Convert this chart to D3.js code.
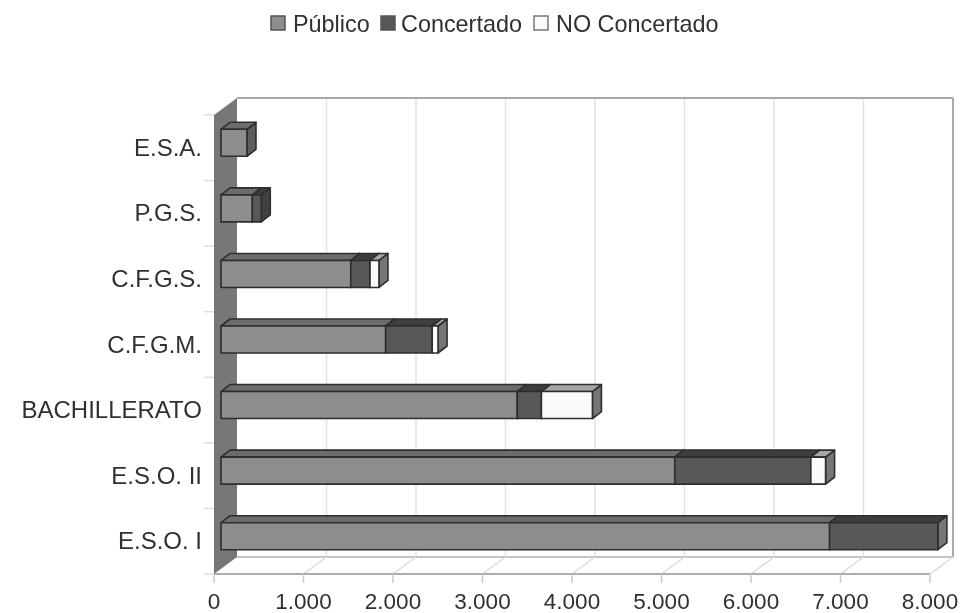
<!DOCTYPE html>
<html><head><meta charset="utf-8">
<script src="https://cdn.jsdelivr.net/npm/d3@7"></script>
<style>html,body{margin:0;padding:0;background:#fff}svg{display:block;filter:blur(0.5px)}text{font-family:"Liberation Sans",Arial,sans-serif;fill:#303032}</style>
</head><body><svg id="c" width="966" height="613"></svg>
<script>
const categories = ["E.S.A.","P.G.S.","C.F.G.S.","C.F.G.M.","BACHILLERATO","E.S.O. II","E.S.O. I"];
const seriesNames = ["Público","Concertado","NO Concertado"];
const publico = [290,350,1450,1840,3310,5070,6800];
const concertado = [0,100,215,520,270,1520,1210];
const noConcertado = [0,0,100,65,570,165,0];
const xTicks = [0,1000,2000,3000,4000,5000,6000,7000,8000];
const tickLabels = ["0","1.000","2.000","3.000","4.000","5.000","6.000","7.000","8.000"];
const frontFill = ["#8d8d8f","#58585a","#fafafa"];
const topFill = ["#6c6c6e","#3e3e40","#a6a6a8"];
const sideFill = ["#5c5c5e","#414143","#767678"];

const svg = d3.select("#c");
const x = d3.scaleLinear().domain([0,8000]).range([214,930]);
const y = d3.scaleBand().domain(categories).range([115,574]);
const wall = {dx:23, dy:-17};          // depth of the chart box
const barD = {dx:9, dy:-7};            // depth of a bar
const inset = {dx:7, dy:-5};           // bar offset from the front plane
const top0 = y.range()[0], bot = y.range()[1];
const poly = (pts,fill,stroke,sw)=>svg.append("polygon").attr("points",pts.map(p=>p.join(",")).join(" "))
  .attr("fill",fill).attr("stroke",stroke||"none").attr("stroke-width",sw||0).attr("stroke-linejoin","round");
const line = (a,b,c,w)=>svg.append("line").attr("x1",a[0]).attr("y1",a[1]).attr("x2",b[0]).attr("y2",b[1]).attr("stroke",c).attr("stroke-width",w);

// legend
let legendX = [270,380,533];
let legendTextX = [293,401,556];
seriesNames.forEach((s,i)=>{
  svg.append("rect").attr("x",legendX[i]+1).attr("y",16).attr("width",14).attr("height",14)
    .attr("fill",frontFill[i]).attr("stroke",i==2?"#777":"#555").attr("stroke-width",1.5);
  svg.append("text").attr("x",legendTextX[i]).attr("y",32).attr("font-size",23.4).text(s);
});

// back wall and grid
xTicks.slice(1,-1).forEach(t=>line([x(t)+wall.dx,top0+wall.dy],[x(t)+wall.dx,bot+wall.dy],"#e2e2e2",1.5));
line([x(0)+wall.dx,top0+wall.dy],[x(8000)+wall.dx,top0+wall.dy],"#a9a9a9",2);
line([x(8000)+wall.dx,top0+wall.dy],[x(8000)+wall.dx,bot+wall.dy],"#a9a9a9",2);
line([x(0)+wall.dx,bot+wall.dy],[x(8000)+wall.dx,bot+wall.dy],"#c4c4c4",2);
// floor
xTicks.slice(1).forEach(t=>line([x(t),bot],[x(t)+wall.dx,bot+wall.dy],"#dadada",1.5));
line([x(0),bot],[x(8000),bot],"#adadad",2);
// left wall
poly([[x(0),top0],[x(0)+wall.dx,top0+wall.dy],[x(0)+wall.dx,bot+wall.dy],[x(0),bot]],"#77777a");
// ticks
xTicks.forEach(t=>line([x(t),bot],[x(t),bot+9],"#cacaca",1.5));
d3.range(categories.length+1).forEach(i=>{
  const yy = top0 + i*y.step();
  line([x(0)-10,yy],[x(0),yy],"#dedede",1.5);
});

// bars
const barH = 27;
categories.forEach((c,r)=>{
  const yT = y(c)+y.bandwidth()/2+inset.dy-barH/2, yB = yT+barH;
  let acc = 0;
  [publico[r],concertado[r],noConcertado[r]].forEach((v,s)=>{
    if(!v) return;
    const x0 = x(acc)+inset.dx, x1 = x(acc+v)+inset.dx; acc += v;
    const sf = (r==6 && s==1) ? sideFill[2] : sideFill[s];
    poly([[x1,yT],[x1+barD.dx,yT+barD.dy],[x1+barD.dx,yB+barD.dy],[x1,yB]],sf,"#2e2e30",1.6);
    poly([[x0,yT],[x0+barD.dx,yT+barD.dy],[x1+barD.dx,yT+barD.dy],[x1,yT]],topFill[s],"#2e2e30",1.6);
    poly([[x0,yT],[x1,yT],[x1,yB],[x0,yB]],frontFill[s],"#2e2e30",1.6);
  });
});

// labels
categories.forEach(c=>{
  svg.append("text").attr("x",202).attr("y",y(c)+y.bandwidth()/2+8).attr("text-anchor","end").attr("font-size",24).text(c);
});
xTicks.forEach((t,i)=>{
  svg.append("text").attr("x",x(t)).attr("y",609).attr("text-anchor","middle").attr("font-size",22.5).text(tickLabels[i]);
});
</script></body></html>
